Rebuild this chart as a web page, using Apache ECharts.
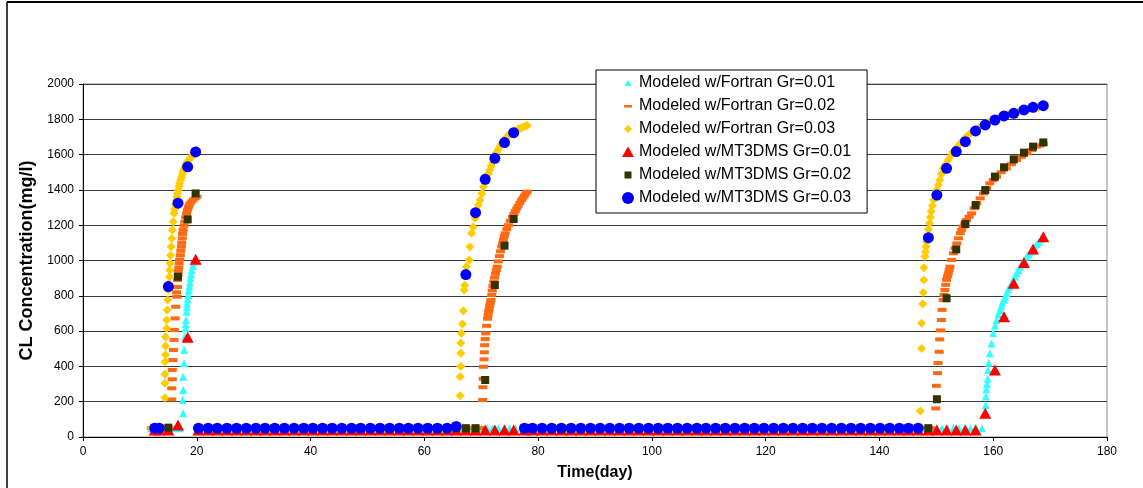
<!DOCTYPE html>
<html>
<head>
<meta charset="utf-8">
<script src="https://cdn.jsdelivr.net/npm/echarts/dist/echarts.min.js"></script>
<style>
  html, body { margin: 0; padding: 0; background: #fff; }
  #EchartDiv { width: 1143px; height: 488px; }
</style>
</head>
<body>
<div id="EchartDiv"></div>
<script>
// 图例名称
var seriesNames = [
	'Modeled w/Fortran Gr=0.01',
	'Modeled w/Fortran Gr=0.02',
	'Modeled w/Fortran Gr=0.03',
	'Modeled w/MT3DMS Gr=0.01',
	'Modeled w/MT3DMS Gr=0.02',
	'Modeled w/MT3DMS Gr=0.03'
];

// Fortran 背景值 (day 12~158)
var baseDays = [12,13,14,15,16,17,18,19,20,21,22,23,24,25,26,27,28,29,30,31,32,33,34,35,36,37,38,39,40,
	41,42,43,44,45,46,47,48,49,50,51,52,53,54,55,56,57,58,59,60,61,62,63,64,65,66,67,68,69,70,
	71,72,73,74,75,76,77,78,79,80,81,82,83,84,85,86,87,88,89,90,91,92,93,94,95,96,97,98,99,100,
	101,102,103,104,105,106,107,108,109,110,111,112,113,114,115,116,117,118,119,120,121,122,123,124,125,
	126,127,128,129,130,131,132,133,134,135,136,137,138,139,140,141,142,143,144,145,146,147,148,149,150,
	151,152,153,154,155,156,157,158];
var baseLevel = 50;
// 各 Fortran 序列升高的时段 (这些时段内不画背景值)
var fortran01Windows = [[17.4, 20.0]];
var fortran02Windows = [[15.5, 20.0], [70.2, 78.2], [149.8, 170]];
var fortran03Windows = [[14.3, 20.0], [66.2, 78.2], [147.1, 170]];

// Fortran Gr=0.01 升高段 [day, mg/l]
var fortran01Rise = [
	[17.6,134],[17.5,210],[17.6,266],[17.6,342],[17.75,418],[17.8,493],[17.9,568],[18.0,615],
	[18.05,640],[18.1,663],[18.2,710],[18.25,735],[18.3,757],[18.4,780],[18.5,805],[18.6,830],
	[18.7,852],[18.8,875],[18.9,900],[19.0,922],[19.1,946],[19.3,970],[19.5,993],
	[158.7,181],[158.7,230],[158.8,270],[158.9,300],[159.0,330],[159.1,380],[159.2,420],[159.4,475],
	[159.7,530],[160.0,589],[160.3,630],[160.6,663],[160.9,695],[161.2,720],[161.4,740],[161.6,760],
	[161.85,778],[162.1,795],[162.35,815],[162.6,835],[162.9,853],[163.2,871],[163.5,890],[163.8,910],
	[164.1,928],[164.4,946],[164.75,965],[165.1,985],[165.5,1003],[165.9,1022],[166.25,1036],
	[166.6,1050],[166.95,1064],[167.3,1078],[167.65,1092],[168.0,1105],[168.4,1120],[168.8,1135]
];
// Fortran Gr=0.02 升高段
var fortran02Rise = [
	[15.6,213],[15.6,276],[15.7,327],[15.7,380],[15.8,436],[15.9,493],[16.0,550],[16.05,606],
	[16.2,672],[16.3,738],[16.45,820],[16.5,795],[16.6,850],[16.6,890],[16.7,915],[16.75,940],
	[16.85,960],[16.9,984],[17.0,1005],[17.1,1030],[17.2,1055],[17.3,1078],[17.35,1100],[17.45,1125],
	[17.5,1150],[17.6,1173],[17.75,1197],[17.9,1220],[18.05,1245],[18.2,1267],[18.35,1285],[18.5,1300],
	[18.65,1312],[18.8,1324],[19.1,1335],[19.4,1345],[19.7,1352],[20.0,1361],
	[70.25,210],[70.3,282],[70.35,330],[70.4,398],[70.5,440],[70.55,480],[70.6,520],[70.7,555],
	[70.8,587],[70.95,630],[71.1,670],[71.2,690],[71.3,710],[71.4,728],[71.5,745],[71.6,760],
	[71.7,776],[71.85,805],[71.95,830],[72.05,855],[72.2,880],[72.35,903],[72.5,925],[72.65,945],
	[72.8,965],[73.0,995],[73.2,1025],[73.4,1052],[73.6,1078],[73.75,1098],[73.9,1118],[74.05,1136],
	[74.2,1154],[74.5,1178],[74.8,1200],[75.1,1225],[75.5,1248],[75.75,1265],[76.0,1280],[76.25,1295],
	[76.5,1310],[76.8,1327],[77.1,1343],[77.35,1356],[77.6,1368],[77.85,1380],[78.1,1390],
	[149.9,162],[150.0,290],[150.2,362],[150.3,419],[150.5,483],[150.6,553],[150.75,604],[150.9,663],
	[151.0,720],[151.2,776],[151.35,805],[151.5,833],[151.65,862],[151.8,890],[151.95,910],[152.1,927],
	[152.25,946],[152.4,965],[152.7,1003],[153.0,1041],[153.3,1070],[153.6,1097],[153.9,1126],
	[154.2,1155],[154.45,1174],[154.7,1192],[155.0,1210],[155.3,1229],[155.75,1248],[156.2,1267],
	[156.65,1296],[157.1,1324],[157.7,1352],[158.3,1380],[158.85,1410],[159.4,1437],[160.0,1456],
	[160.6,1475],[161.4,1500],[162.3,1522],[163.2,1546],[164.1,1569],[165.0,1588],[165.9,1607],
	[166.8,1626],[167.6,1645],[168.2,1652],[168.8,1660]
];
// Fortran Gr=0.03 升高段
var fortran03Rise = [
	[14.4,223],[14.4,304],[14.4,356],[14.4,427],[14.5,466],[14.5,515],[14.5,567],[14.7,616],
	[14.7,663],[14.8,720],[14.9,776],[15.0,833],[15.1,870],[15.2,908],[15.25,945],[15.3,984],
	[15.4,1030],[15.5,1078],[15.6,1125],[15.7,1173],[15.85,1220],[16.0,1267],[16.1,1290],[16.25,1315],
	[16.4,1340],[16.5,1361],[16.6,1380],[16.75,1400],[16.9,1420],[17.0,1437],[17.15,1455],[17.3,1470],
	[17.45,1487],[17.6,1503],[17.75,1515],[17.9,1527],[18.05,1540],[18.2,1551],[18.4,1560],[18.6,1570],
	[18.85,1580],[19.1,1588],[19.3,1598],[19.5,1608],[19.75,1617],[20.0,1626],
	[66.3,234],[66.3,342],[66.4,400],[66.4,475],[66.4,532],[66.5,588],[66.7,640],[66.85,716],
	[67.0,833],[67.1,860],[67.4,965],[67.9,1003],[68.0,1078],[68.3,1155],[68.6,1190],[68.9,1240],
	[69.2,1286],[69.5,1315],[69.8,1343],[70.1,1380],[70.4,1418],[70.7,1445],[71.0,1470],[71.25,1492],
	[71.5,1513],[71.75,1535],[72.0,1555],[72.2,1573],[72.4,1591],[72.7,1612],[73.0,1630],[73.3,1648],
	[73.6,1665],[74.0,1683],[74.5,1700],[74.9,1715],[75.4,1727],[75.9,1737],[76.5,1745],[76.9,1750],
	[77.3,1755],[77.7,1760],[78.1,1765],
	[147.2,147],[147.4,502],[147.4,644],[147.6,753],[147.7,818],[147.8,890],[147.8,959],[148.0,1022],
	[148.1,1050],[148.2,1078],[148.3,1105],[148.4,1135],[148.6,1175],[148.8,1211],[148.95,1245],
	[149.1,1277],[149.3,1310],[149.5,1343],[149.8,1372],[150.1,1399],[150.35,1428],[150.6,1456],
	[150.9,1490],[151.2,1522],[151.65,1546],[152.1,1569],[152.55,1594],[153.0,1617],[153.6,1640],
	[154.2,1664],[154.75,1684],[155.3,1702],[156.0,1722],[156.8,1739],[157.5,1754],[158.2,1768],
	[159.1,1782],[160.0,1796],[160.9,1808],[161.8,1819],[162.6,1827],[163.5,1834],[164.4,1842],
	[165.3,1849],[166.1,1856],[167.0,1862],[167.9,1867],[168.8,1871]
];

// MT3DMS 输出时间
var mtDays = [12.6,13.4,15.0,16.7,18.4,19.8,20.3,
	22.0,23.6,25.3,27.0,28.7,30.4,32.0,33.7,35.4,37.1,38.8,40.4,42.1,43.8,45.5,47.2,48.8,50.5,52.2,
	53.9,55.6,57.2,58.9,60.6,62.3,64.0,
	65.6,67.3,69.0,70.7,72.4,74.1,75.7,77.6,
	79.0,80.7,82.4,84.1,85.8,87.5,89.2,90.9,92.6,94.3,96.0,97.7,99.4,101.1,102.8,104.5,106.2,107.9,
	109.5,111.2,112.9,114.6,116.3,118.0,119.7,121.4,123.1,124.8,126.5,128.2,129.9,131.6,133.3,135.0,
	136.7,138.4,140.1,141.8,143.5,145.1,146.8,
	148.6,150.1,151.8,153.5,155.1,156.9,158.6,160.3,161.9,163.6,165.4,167.0,168.8];
var mt01Values = [40,40,40,68,565,1007,40,
	40,40,40,40,40,40,40,40,40,40,40,40,40,40,40,40,40,40,40,
	40,40,40,40,40,40,40,
	40,40,40,40,40,40,40,40,
	40,40,40,40,40,40,40,40,40,40,40,40,40,40,40,40,40,40,
	40,40,40,40,40,40,40,40,40,40,40,40,40,40,40,40,
	40,40,40,40,40,40,40,
	40,40,40,40,40,40,134,380,682,871,988,1065,1135];
var mt02Values = [50,50,53,908,1233,1380,50,
	50,50,50,50,50,50,50,50,50,50,50,50,50,50,50,50,50,50,50,
	50,50,50,50,50,50,50,
	50,50,50,323,861,1084,1235,50,
	50,50,50,50,50,50,50,50,50,50,50,50,50,50,50,50,50,50,
	50,50,50,50,50,50,50,50,50,50,50,50,50,50,50,50,
	50,50,50,50,50,50,50,
	50,214,786,1063,1207,1314,1399,1475,1528,1573,1611,1645,1669];
var mt03Values = [50,50,852,1325,1531,1615,50,
	50,50,50,50,50,50,50,50,50,50,50,50,50,50,50,50,50,50,50,
	50,50,50,50,50,50,50,
	60,920,1271,1460,1579,1668,1724,50,
	50,50,50,50,50,50,50,50,50,50,50,50,50,50,50,50,50,50,
	50,50,50,50,50,50,50,50,50,50,50,50,50,50,50,50,
	50,50,50,50,50,50,50,
	1129,1371,1522,1617,1673,1734,1768,1796,1819,1834,1853,1868,1877];

// 坐标刻度
var xMin = 0, xMax = 180, xStep = 20;
var yMin = 0, yMax = 2000, yStep = 200;

function inWindows(d, wins){
	for (var i = 0; i < wins.length; i++){
		if (d >= wins[i][0] && d <= wins[i][1]) return true;
	}
	return false;
}
function buildFortran(rise, wins){
	var arr = [];
	for (var i = 0; i < baseDays.length; i++){
		if (!inWindows(baseDays[i], wins)) arr.push([baseDays[i], baseLevel]);
	}
	return arr.concat(rise);
}
function buildMT(vals){
	var arr = [];
	for (var i = 0; i < mtDays.length; i++){
		arr.push([mtDays[i], vals[i]]);
	}
	return arr;
}

var font = '"Liberation Sans", Arial, sans-serif';
var myChart = echarts.init(document.getElementById('EchartDiv'));
var option = {
	backgroundColor: '#fff',
	animation: false,
	textStyle: { fontFamily: font },
	grid: {
		left: 83, right: 36, top: 84, bottom: 51,
		show: true, borderColor: '#8c8c8c', borderWidth: 1
	},
	graphic: [
		// 外框
		{ type: 'line', shape: { x1: 7, y1: 2, x2: 1143, y2: 2 }, style: { stroke: '#000', lineWidth: 2 } },
		{ type: 'line', shape: { x1: 7, y1: 2, x2: 7, y2: 488 }, style: { stroke: '#000', lineWidth: 1.5 } }
	],
	legend: {
		orient: 'vertical',
		left: 596, top: 70,
		padding: [5, 16, 7, 26],
		itemGap: 7,
		itemWidth: 12, itemHeight: 12,
		backgroundColor: '#fff',
		borderColor: '#000', borderWidth: 1,
		textStyle: { fontSize: 16, color: '#000', fontFamily: font },
		data: [
			{ name: seriesNames[0], icon: 'path://M0,0M12,12M6,2.5L9.5,9L2.5,9Z' },
			{ name: seriesNames[1], icon: 'path://M0,0M12,12M2,5L10,5L10,7.5L2,7.5Z' },
			{ name: seriesNames[2], icon: 'path://M0,0M12,12M6,2L10,6L6,10L2,6Z' },
			{ name: seriesNames[3], icon: 'path://M0,0M12,12M6,0.5L12,11L0,11Z' },
			{ name: seriesNames[4], icon: 'path://M0,0M12,12M2.5,2.5L9.5,2.5L9.5,9.5L2.5,9.5Z' },
			{ name: seriesNames[5], icon: 'circle' }
		]
	},
	xAxis: {
		type: 'value',
		min: xMin, max: xMax, interval: xStep,
		name: 'Time(day)',
		nameLocation: 'middle',
		nameGap: 28,
		nameTextStyle: { fontSize: 16, fontWeight: 'bold', color: '#000', fontFamily: font },
		axisLine: { lineStyle: { color: '#000', width: 1 } },
		axisTick: { show: true, length: 4, lineStyle: { color: '#000' } },
		axisLabel: { fontSize: 12, color: '#000', margin: 9 },
		splitLine: { show: false }
	},
	yAxis: {
		type: 'value',
		min: yMin, max: yMax, interval: yStep,
		name: 'CL Concentration(mg/l)',
		nameLocation: 'middle',
		nameGap: 38,
		nameTextStyle: { fontSize: 18, fontWeight: 'bold', color: '#000', fontFamily: font },
		axisLine: { show: true, lineStyle: { color: '#000', width: 1 } },
		axisTick: { show: true, length: 4, lineStyle: { color: '#000' } },
		axisLabel: { fontSize: 12, color: '#000', margin: 9, formatter: function (v) { return String(v); } },
		splitLine: { show: true, lineStyle: { color: '#3a3a3a', width: 1 } }
	},
	series: [
		{
			name: seriesNames[0], type: 'scatter',
			symbol: 'triangle', symbolSize: 8,
			itemStyle: { color: '#33ffff', opacity: 1 },
			data: buildFortran(fortran01Rise, fortran01Windows)
		},
		{
			name: seriesNames[1], type: 'scatter',
			symbol: 'rect', symbolSize: [9, 4],
			itemStyle: { color: '#ff6a13', opacity: 1 },
			data: buildFortran(fortran02Rise, fortran02Windows)
		},
		{
			name: seriesNames[2], type: 'scatter',
			symbol: 'diamond', symbolSize: 9,
			itemStyle: { color: '#ffcc00', opacity: 1 },
			data: buildFortran(fortran03Rise, fortran03Windows)
		},
		{
			name: seriesNames[3], type: 'scatter',
			symbol: 'triangle', symbolSize: [12, 11],
			itemStyle: { color: '#ff0000', opacity: 1 },
			data: buildMT(mt01Values)
		},
		{
			name: seriesNames[4], type: 'scatter',
			symbol: 'rect', symbolSize: 8,
			itemStyle: { color: '#333300', opacity: 1 },
			data: buildMT(mt02Values)
		},
		{
			name: seriesNames[5], type: 'scatter',
			symbol: 'circle', symbolSize: 11,
			itemStyle: { color: '#0000ff', opacity: 1 },
			data: buildMT(mt03Values)
		}
	]
};
myChart.setOption(option);
</script>
</body>
</html>
